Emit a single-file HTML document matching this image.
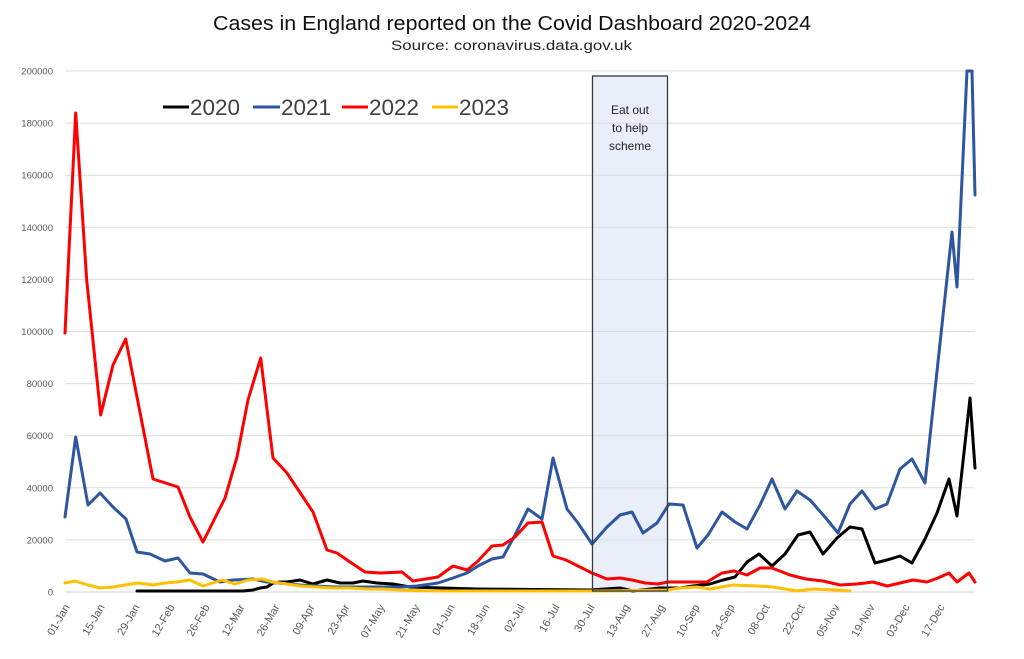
<!DOCTYPE html>
<html>
<head>
<meta charset="utf-8">
<style>
html,body{margin:0;padding:0;background:#fff;}
svg{display:block;}
text{font-family:"Liberation Sans",sans-serif;}
</style>
</head>
<body>
<svg width="1024" height="659" viewBox="0 0 1024 659" xmlns="http://www.w3.org/2000/svg">
<rect width="1024" height="659" fill="#fff"/>
<!-- Title -->
<text x="213" y="30" font-size="20" fill="#111" textLength="598" lengthAdjust="spacingAndGlyphs">Cases in England reported on the Covid Dashboard 2020-2024</text>
<text x="391" y="50" font-size="14" fill="#222" textLength="241" lengthAdjust="spacingAndGlyphs">Source: coronavirus.data.gov.uk</text>

<!-- Box fill -->
<rect x="592.5" y="76" width="75" height="515" fill="#E9EEF9"/>

<!-- Gridlines -->
<g stroke="#dcdcdc" stroke-width="1">
<line x1="65" y1="71" x2="975" y2="71"/>
<line x1="65" y1="123.1" x2="975" y2="123.1"/>
<line x1="65" y1="175.2" x2="975" y2="175.2"/>
<line x1="65" y1="227.3" x2="975" y2="227.3"/>
<line x1="65" y1="279.4" x2="975" y2="279.4"/>
<line x1="65" y1="331.5" x2="975" y2="331.5"/>
<line x1="65" y1="383.6" x2="975" y2="383.6"/>
<line x1="65" y1="435.7" x2="975" y2="435.7"/>
<line x1="65" y1="487.8" x2="975" y2="487.8"/>
<line x1="65" y1="539.9" x2="975" y2="539.9"/>
<line x1="65" y1="592" x2="975" y2="592" stroke="#d0d0d0"/>
</g>

<!-- Y labels -->
<g font-size="9.5" fill="#595959" text-anchor="end">
<text x="53" y="74.5">200000</text>
<text x="53" y="126.6">180000</text>
<text x="53" y="178.7">160000</text>
<text x="53" y="230.8">140000</text>
<text x="53" y="282.9">120000</text>
<text x="53" y="335">100000</text>
<text x="53" y="387.1">80000</text>
<text x="53" y="439.2">60000</text>
<text x="53" y="491.3">40000</text>
<text x="53" y="543.4">20000</text>
<text x="53" y="595.5">0</text>
</g>

<!-- X labels -->
<g font-size="11" fill="#595959" text-anchor="end">
<text transform="translate(70,607) rotate(-60)">01-Jan</text>
<text transform="translate(105,607) rotate(-60)">15-Jan</text>
<text transform="translate(140,607) rotate(-60)">29-Jan</text>
<text transform="translate(175,607) rotate(-60)">12-Feb</text>
<text transform="translate(210,607) rotate(-60)">26-Feb</text>
<text transform="translate(245,607) rotate(-60)">12-Mar</text>
<text transform="translate(280,607) rotate(-60)">26-Mar</text>
<text transform="translate(315,607) rotate(-60)">09-Apr</text>
<text transform="translate(350,607) rotate(-60)">23-Apr</text>
<text transform="translate(385,607) rotate(-60)">07-May</text>
<text transform="translate(420,607) rotate(-60)">21-May</text>
<text transform="translate(455,607) rotate(-60)">04-Jun</text>
<text transform="translate(490,607) rotate(-60)">18-Jun</text>
<text transform="translate(525,607) rotate(-60)">02-Jul</text>
<text transform="translate(560,607) rotate(-60)">16-Jul</text>
<text transform="translate(595,607) rotate(-60)">30-Jul</text>
<text transform="translate(630,607) rotate(-60)">13-Aug</text>
<text transform="translate(665,607) rotate(-60)">27-Aug</text>
<text transform="translate(700,607) rotate(-60)">10-Sep</text>
<text transform="translate(735,607) rotate(-60)">24-Sep</text>
<text transform="translate(770,607) rotate(-60)">08-Oct</text>
<text transform="translate(805,607) rotate(-60)">22-Oct</text>
<text transform="translate(840,607) rotate(-60)">05-Nov</text>
<text transform="translate(875,607) rotate(-60)">19-Nov</text>
<text transform="translate(910,607) rotate(-60)">03-Dec</text>
<text transform="translate(945,607) rotate(-60)">17-Dec</text>
</g>

<!-- Series -->
<g fill="none" stroke-width="3" stroke-linejoin="round" stroke-linecap="round">
<polyline stroke="#000" points="137,591 243,591 253,590 260,588 267,587 273,583 280,582 287,582 300,580 313,584 327,580 340,583 353,583 363,581 377,583 393,584 410,587 443,588 477,589 590,590 620,588 633,591 660,588 680,588 693,586 710,584 723,580 735,577 747,562 759,554 772,566 785,554 798,535 810,532 823,554 837,538 850,527 862,529 875,563 887,560 900,556 912,563 925,539 937,513 949,479 957,516 970,398 975,468"/>
<polyline stroke="#2E56A0" points="65,517 75.7,437 88,505 100,493 113,507 126,519 137,552 150,554 165,561 178,558 190,573 203,574 220,582 233,580 253,579 267,582 300,585 333,587 367,587 400,587 417,586 438,583 453,578 467,573 478,566 492,559 503,557 515,535 528,509 542,519 553,458 567,509 578,523 592,544 607,527 620,515 632,512 643,533 657,523 669,504 683,505 697,548 708,535 722,512 735,522 747,529 760,505 772,479 785,509 797,491 810,500 825,517 838,533 850,504 862,491 875,509 887,504 900,469 912,459 925,483 952,232 957,287 967,71 972,71 975,195"/>
<polyline stroke="#FF0000" points="65,333 75.7,113 86.7,280 100.7,415 113,365 125.7,339 153,479 178,487 190,517 203,542 225,498 237,457 248,400 260.7,358 273,458 287,473 303,497 313,512 327,550 337,553 350,562 365,572 380,573 402,572 413,581 438,577 453,566 467,570 477,562 492,546 503,545 515,537 528,523 542,522 553,556 566,560 592,573 607,579 620,578 632,580 645,583 658,584 668,582 707,582 722,573 734,571 747,575 760,568 772,568 790,575 806,579 823,581 840,585 857,584 873,582 887,586 900,583 913,580 927,582 938,578 949,573 957,582 969,573 975,582"/>
<polyline stroke="#FFC000" points="65,583 75,581 88,585 100,588 113,587 125,585 138,583 153,585 165,583 177,582 190,580 203,586 222,580 235,584 248,580 262,579 273,582 287,584 300,586 317,587 333,588 350,588 367,589 383,589 400,590 433,591 467,591 520,591 600,591 667,590 680,588 697,587 710,589 733,585 757,586 773,587 797,591 813,589 837,590 850,591"/>
</g>

<!-- Box border -->
<rect x="592.5" y="76" width="75" height="515" fill="none" stroke="#3a3a3a" stroke-width="1.3"/>
<g font-size="12" fill="#222" text-anchor="middle">
<text x="630" y="114">Eat out</text>
<text x="630" y="132">to help</text>
<text x="630" y="150">scheme</text>
</g>

<!-- Legend -->
<g stroke-width="3" stroke-linecap="butt">
<line x1="163" y1="107" x2="189" y2="107" stroke="#000"/>
<line x1="253" y1="107" x2="280" y2="107" stroke="#2E56A0"/>
<line x1="342" y1="107" x2="368" y2="107" stroke="#FF0000"/>
<line x1="432" y1="107" x2="458" y2="107" stroke="#FFC000"/>
</g>
<g font-size="22" fill="#404040">
<text x="190" y="115" textLength="50" lengthAdjust="spacingAndGlyphs">2020</text>
<text x="281" y="115" textLength="50" lengthAdjust="spacingAndGlyphs">2021</text>
<text x="369" y="115" textLength="50" lengthAdjust="spacingAndGlyphs">2022</text>
<text x="459" y="115" textLength="50" lengthAdjust="spacingAndGlyphs">2023</text>
</g>
</svg>
</body>
</html>
